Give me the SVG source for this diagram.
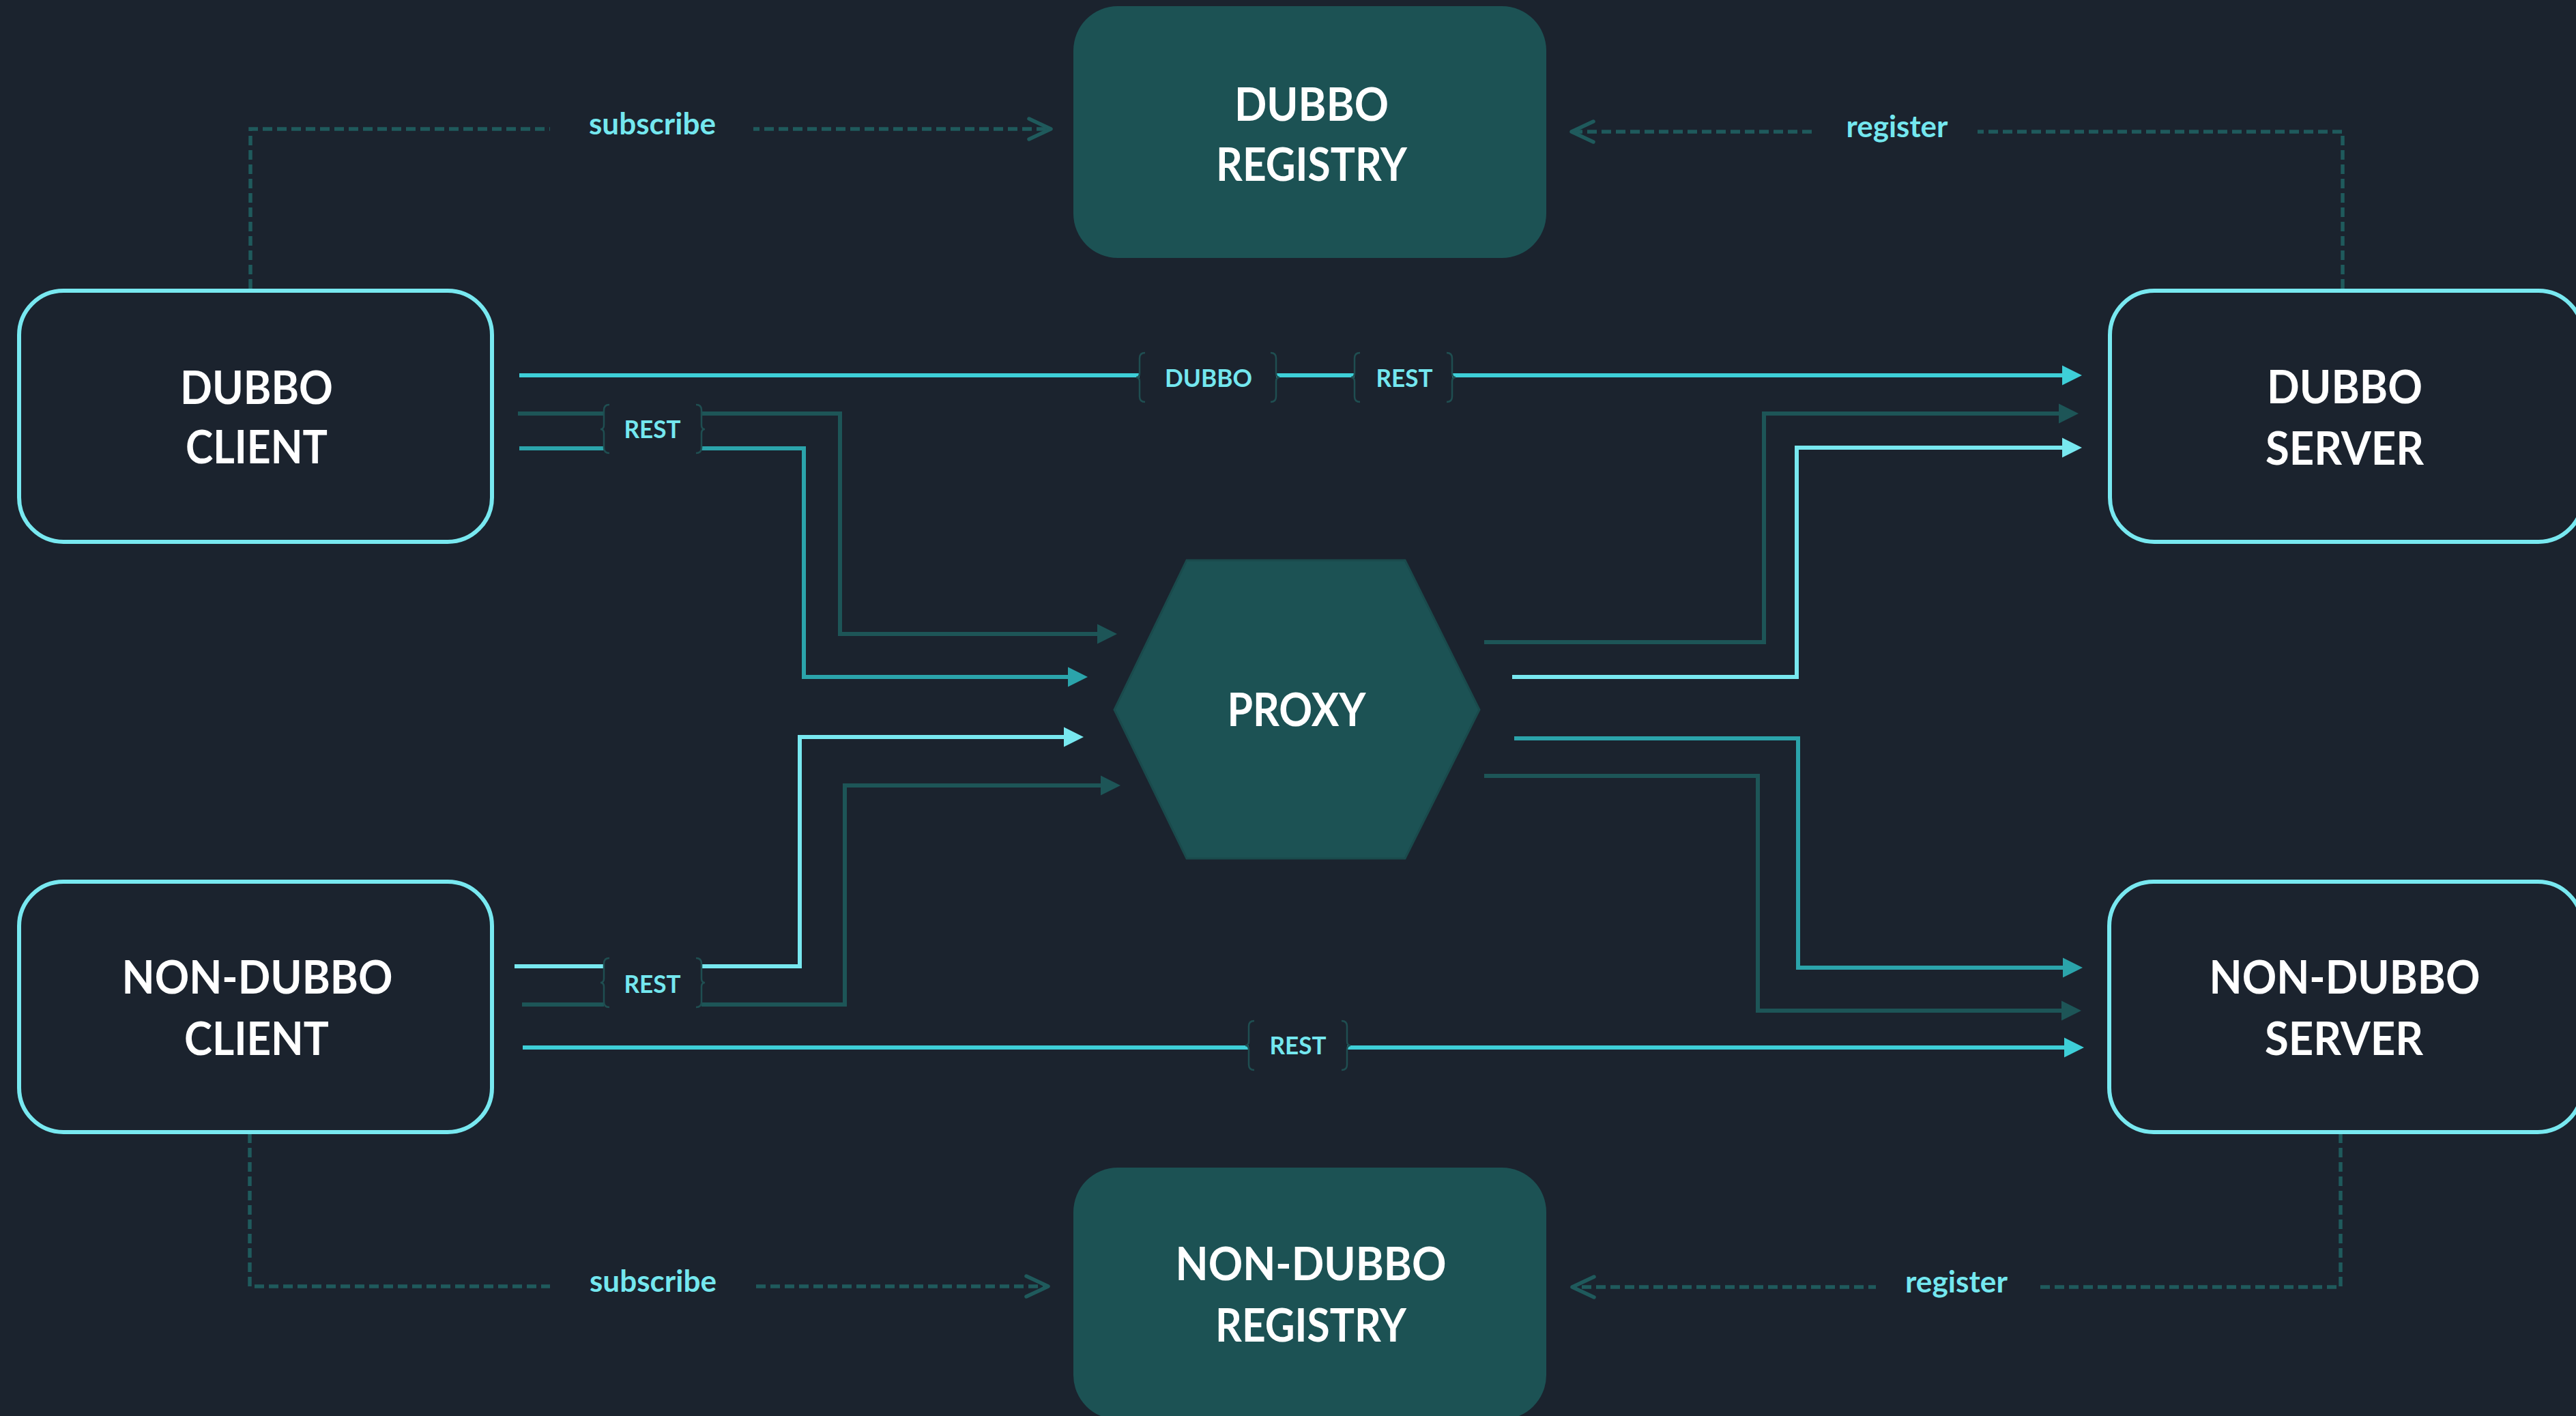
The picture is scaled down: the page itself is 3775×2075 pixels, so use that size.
<svg xmlns="http://www.w3.org/2000/svg" width="3775" height="2075" viewBox="0 0 3775 2075">
<style>
.bg{fill:#1b232e}
.node{fill:#1b232e;stroke:#78e8f0;stroke-width:6}
.reg{fill:#1c5254}
.ntxt{font-family:Lato,"Open Sans",sans-serif;font-weight:700;font-size:66px;fill:#ffffff;text-anchor:middle}
.ltxt{font-family:Lato,"Open Sans",sans-serif;font-weight:700;font-size:44px;fill:#74e7ef;text-anchor:middle}
.btxt{font-family:Lato,"Open Sans",sans-serif;font-weight:700;font-size:36px;fill:#74e7ef;text-anchor:middle}
.ln{fill:none;stroke-width:6;stroke-linejoin:miter}
.dark{stroke:#1d5557}
.med{stroke:#2ba4ab}
.bright{stroke:#3ecfd8}
.light{stroke:#78e8f0}
.dash{fill:none;stroke:#1f5a5c;stroke-width:5.5;stroke-dasharray:14 7}
.brace{fill:none;stroke:#1f4e51;stroke-width:2.5}
</style>
<defs>
<marker id="aDark" markerUnits="userSpaceOnUse" markerWidth="30" markerHeight="30" refX="9" refY="14.5" orient="auto" overflow="visible"><path d="M0,0 L29,14.5 L0,29 Z" fill="#1d5557"/></marker>
<marker id="aMed" markerUnits="userSpaceOnUse" markerWidth="30" markerHeight="30" refX="9" refY="14.5" orient="auto" overflow="visible"><path d="M0,0 L29,14.5 L0,29 Z" fill="#2ba4ab"/></marker>
<marker id="aBright" markerUnits="userSpaceOnUse" markerWidth="30" markerHeight="30" refX="9" refY="14.5" orient="auto" overflow="visible"><path d="M0,0 L29,14.5 L0,29 Z" fill="#3ecfd8"/></marker>
<marker id="aLight" markerUnits="userSpaceOnUse" markerWidth="30" markerHeight="30" refX="9" refY="14.5" orient="auto" overflow="visible"><path d="M0,0 L29,14.5 L0,29 Z" fill="#78e8f0"/></marker>
<marker id="chev" markerUnits="userSpaceOnUse" markerWidth="40" markerHeight="40" refX="34" refY="17" orient="auto" overflow="visible"><path d="M2,2 L34,17 L2,32" fill="none" stroke="#1f5a5c" stroke-width="5.5" stroke-linecap="round" stroke-linejoin="round"/></marker>
</defs>
<rect class="bg" x="0" y="0" width="3775" height="2075"/>

<g id="connectors">
<path class="ln bright" d="M761,550 H3031" marker-end="url(#aBright)"/>
<path class="ln dark" d="M759,606 H1231 V929 H1617" marker-end="url(#aDark)"/>
<path class="ln med" d="M761,657 H1178 V992 H1574" marker-end="url(#aMed)"/>
<path class="ln light" d="M754,1416 H1172 V1080 H1568" marker-end="url(#aLight)"/>
<path class="ln dark" d="M765,1472 H1238 V1151 H1622" marker-end="url(#aDark)"/>
<path class="ln bright" d="M766,1535 H3034" marker-end="url(#aBright)"/>
<path class="ln dark" d="M2175,941 H2585 V606 H3026" marker-end="url(#aDark)"/>
<path class="ln light" d="M2216,992 H2633 V656 H3031" marker-end="url(#aLight)"/>
<path class="ln med" d="M2219,1082 H2635 V1418 H3032" marker-end="url(#aMed)"/>
<path class="ln dark" d="M2175,1137 H2576 V1481 H3030" marker-end="url(#aDark)"/>
<path class="dash" d="M367,423 V189 H1540" marker-end="url(#chev)"/>
<path class="dash" d="M3433,423 V193 H2303" marker-end="url(#chev)"/>
<path class="dash" d="M366,1661 V1885 H1536" marker-end="url(#chev)"/>
<path class="dash" d="M3430,1661 V1886 H2304" marker-end="url(#chev)"/>
</g>

<g id="labels">
<g id="lbl-subscribe-top"><rect class="bg" x="806" y="172" width="298" height="34"/><text class="ltxt" x="956" y="197" textLength="186" lengthAdjust="spacingAndGlyphs">subscribe</text></g>
<g id="lbl-register-top"><rect class="bg" x="2661" y="176" width="237" height="34"/><text class="ltxt" x="2780" y="201" textLength="149" lengthAdjust="spacingAndGlyphs">register</text></g>
<g id="lbl-subscribe-bottom"><rect class="bg" x="806" y="1868" width="297" height="34"/><text class="ltxt" x="957" y="1893" textLength="186" lengthAdjust="spacingAndGlyphs">subscribe</text></g>
<g id="lbl-register-bottom"><rect class="bg" x="2749" y="1869" width="236" height="34"/><text class="ltxt" x="2867" y="1894" textLength="150" lengthAdjust="spacingAndGlyphs">register</text></g>

<g id="lbl-dubbo-top">
<rect class="bg" x="1670" y="517" width="200" height="72"/>
<path class="brace" d="M1678,517 Q1670,517 1670,525 V547 Q1670,553 1665,553 Q1670,553 1670,559 V581 Q1670,589 1678,589"/>
<path class="brace" d="M1862,517 Q1870,517 1870,525 V547 Q1870,553 1875,553 Q1870,553 1870,559 V581 Q1870,589 1862,589"/>
<text class="btxt" x="1771" y="567" textLength="128" lengthAdjust="spacingAndGlyphs">DUBBO</text>
</g>
<g id="lbl-rest-top">
<rect class="bg" x="1985" y="517" width="143" height="72"/>
<path class="brace" d="M1993,517 Q1985,517 1985,525 V547 Q1985,553 1980,553 Q1985,553 1985,559 V581 Q1985,589 1993,589"/>
<path class="brace" d="M2120,517 Q2128,517 2128,525 V547 Q2128,553 2133,553 Q2128,553 2128,559 V581 Q2128,589 2120,589"/>
<text class="btxt" x="2058" y="567" textLength="83" lengthAdjust="spacingAndGlyphs">REST</text>
</g>
<g id="lbl-rest-dc">
<rect class="bg" x="885" y="593" width="143" height="71"/>
<path class="brace" d="M893,593 Q885,593 885,601 V623 Q885,629 880,629 Q885,629 885,635 V656 Q885,664 893,664"/>
<path class="brace" d="M1020,593 Q1028,593 1028,601 V623 Q1028,629 1033,629 Q1028,629 1028,635 V656 Q1028,664 1020,664"/>
<text class="btxt" x="956" y="642" textLength="83" lengthAdjust="spacingAndGlyphs">REST</text>
</g>
<g id="lbl-rest-ndc">
<rect class="bg" x="885" y="1404" width="143" height="72"/>
<path class="brace" d="M893,1404 Q885,1404 885,1412 V1434 Q885,1440 880,1440 Q885,1440 885,1446 V1468 Q885,1476 893,1476"/>
<path class="brace" d="M1020,1404 Q1028,1404 1028,1412 V1434 Q1028,1440 1033,1440 Q1028,1440 1028,1446 V1468 Q1028,1476 1020,1476"/>
<text class="btxt" x="956" y="1455" textLength="83" lengthAdjust="spacingAndGlyphs">REST</text>
</g>
<g id="lbl-rest-bottom">
<rect class="bg" x="1830" y="1496" width="144" height="72"/>
<path class="brace" d="M1838,1496 Q1830,1496 1830,1504 V1526 Q1830,1532 1825,1532 Q1830,1532 1830,1538 V1560 Q1830,1568 1838,1568"/>
<path class="brace" d="M1966,1496 Q1974,1496 1974,1504 V1526 Q1974,1532 1979,1532 Q1974,1532 1974,1538 V1560 Q1974,1568 1966,1568"/>
<text class="btxt" x="1902" y="1545" textLength="83" lengthAdjust="spacingAndGlyphs">REST</text>
</g>
</g>

<g id="dubbo-registry">
<rect class="reg" x="1573" y="9" width="693" height="369" rx="65" ry="65"/>
<text class="ntxt" x="1922" y="177" textLength="226" lengthAdjust="spacingAndGlyphs">DUBBO</text>
<text class="ntxt" x="1922" y="265" textLength="280" lengthAdjust="spacingAndGlyphs">REGISTRY</text>
</g>
<g id="non-dubbo-registry">
<rect class="reg" x="1573" y="1711" width="693" height="369" rx="65" ry="65"/>
<text class="ntxt" x="1921" y="1876" textLength="397" lengthAdjust="spacingAndGlyphs">NON-DUBBO</text>
<text class="ntxt" x="1921" y="1966" textLength="280" lengthAdjust="spacingAndGlyphs">REGISTRY</text>
</g>
<g id="dubbo-client">
<rect class="node" x="28" y="426" width="693" height="368" rx="65" ry="65"/>
<text class="ntxt" x="376" y="592" textLength="224" lengthAdjust="spacingAndGlyphs">DUBBO</text>
<text class="ntxt" x="376" y="679" textLength="208" lengthAdjust="spacingAndGlyphs">CLIENT</text>
</g>
<g id="dubbo-server">
<rect class="node" x="3092" y="426" width="693" height="368" rx="65" ry="65"/>
<text class="ntxt" x="3436" y="591" textLength="228" lengthAdjust="spacingAndGlyphs">DUBBO</text>
<text class="ntxt" x="3436" y="681" textLength="232" lengthAdjust="spacingAndGlyphs">SERVER</text>
</g>
<g id="non-dubbo-client">
<rect class="node" x="28" y="1292" width="693" height="367" rx="65" ry="65"/>
<text class="ntxt" x="377" y="1456" textLength="397" lengthAdjust="spacingAndGlyphs">NON-DUBBO</text>
<text class="ntxt" x="376" y="1546" textLength="212" lengthAdjust="spacingAndGlyphs">CLIENT</text>
</g>
<g id="non-dubbo-server">
<rect class="node" x="3091" y="1292" width="693" height="367" rx="65" ry="65"/>
<text class="ntxt" x="3436" y="1456" textLength="397" lengthAdjust="spacingAndGlyphs">NON-DUBBO</text>
<text class="ntxt" x="3435" y="1546" textLength="232" lengthAdjust="spacingAndGlyphs">SERVER</text>
</g>
<g id="proxy">
<polygon class="reg" points="1739,821 2059,821 2168,1040 2059,1258 1739,1258 1633,1040" stroke="#1a4a4c" stroke-width="3"/>
<text class="ntxt" x="1900" y="1064" textLength="203" lengthAdjust="spacingAndGlyphs">PROXY</text>
</g>
</svg>
